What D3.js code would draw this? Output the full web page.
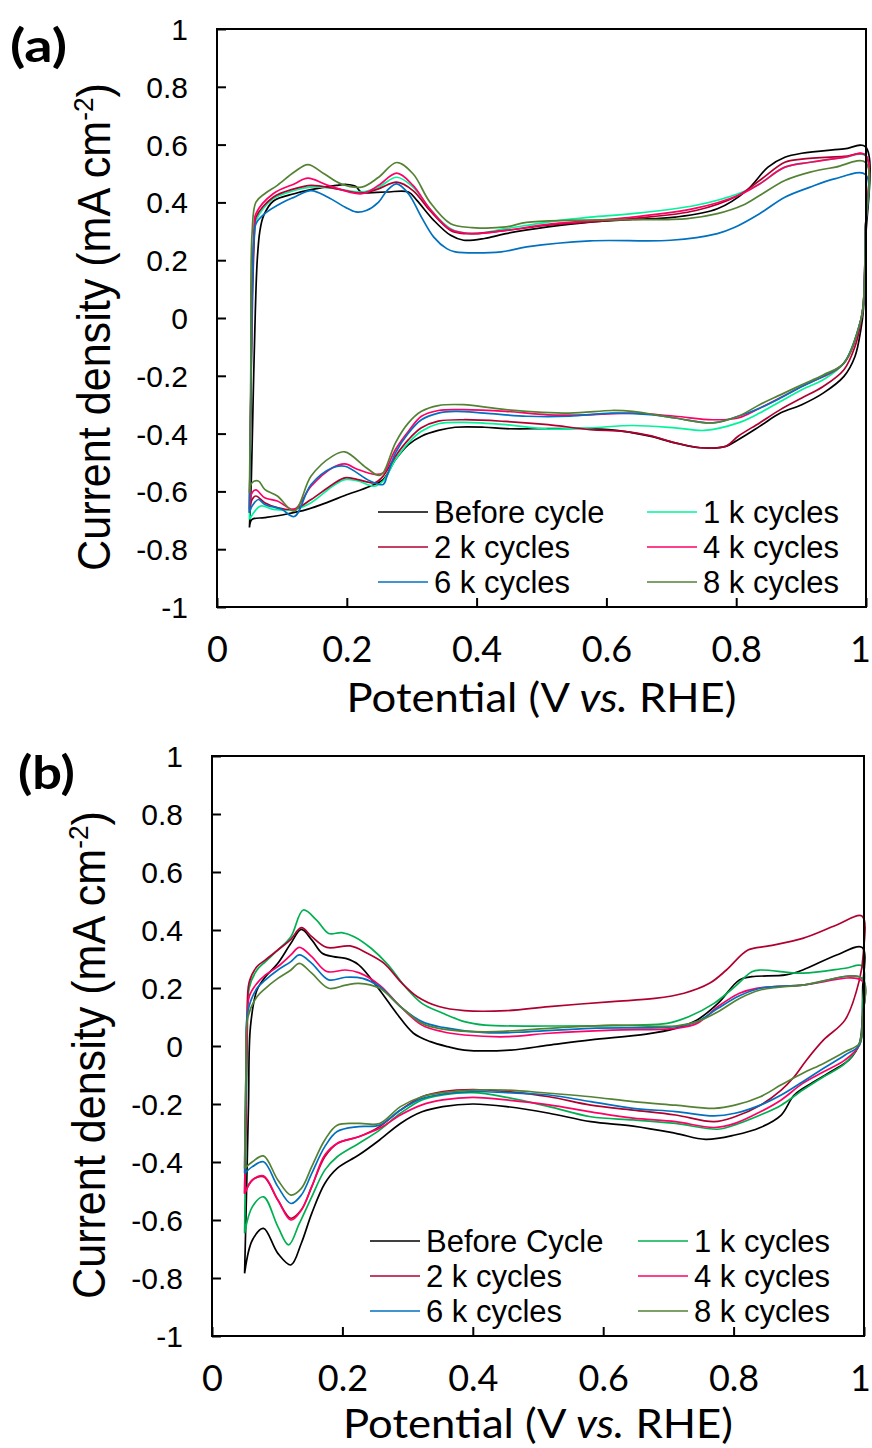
<!doctype html>
<html>
<head>
<meta charset="utf-8">
<script src="https://d3js.org/d3.v7.min.js"></script>
<style>
    body { margin: 0; background: #fff; }
    svg { display: block; }
</style>
</head>
<body>
<svg id="mainsvg" width="872" height="1448"></svg>
<script>
// ---- axis ticks ----
const potentialTicks = [0, 0.2, 0.4, 0.6, 0.8, 1];
const currentTicks = [1, 0.8, 0.6, 0.4, 0.2, 0, -0.2, -0.4, -0.6, -0.8, -1];

// ---- series names / colours ----
const namesA = ["Before cycle", "1 k cycles", "2 k cycles", "4 k cycles", "6 k cycles", "8 k cycles"];
const namesB = ["Before Cycle", "1 k cycles", "2 k cycles", "4 k cycles", "6 k cycles", "8 k cycles"];
const colorsA = ["#000000", "#00f59b", "#b00030", "#ff0066", "#0070c0", "#548235"];
const colorsB = ["#000000", "#00b050", "#b00030", "#ff0066", "#0070c0", "#548235"];

// ---- panel (a): [potential V, current mA cm-2], anodic then cathodic sweep ----
const a_before_up = [[0.05,-0.725],[0.053,-0.55],[0.056,-0.25],[0.059,0.02],[0.062,0.2],[0.066,0.30],[0.072,0.355],[0.087,0.405],[0.119,0.43],[0.145,0.444],[0.184,0.459],[0.200,0.462],[0.214,0.455],[0.222,0.436],[0.260,0.436],[0.295,0.436],[0.308,0.407],[0.334,0.338],[0.360,0.286],[0.380,0.269],[0.412,0.275],[0.445,0.292],[0.510,0.315],[0.575,0.332],[0.640,0.341],[0.706,0.349],[0.771,0.378],[0.816,0.441],[0.849,0.522],[0.875,0.556],[0.901,0.570],[0.966,0.585],[0.999,0.593]];
const a_before_down = [[0.999,0.25],[0.996,0.03],[0.992,-0.041],[0.983,-0.133],[0.966,-0.202],[0.934,-0.260],[0.901,-0.300],[0.868,-0.329],[0.836,-0.375],[0.803,-0.421],[0.784,-0.444],[0.745,-0.449],[0.706,-0.432],[0.667,-0.409],[0.627,-0.392],[0.575,-0.383],[0.510,-0.383],[0.445,-0.383],[0.412,-0.378],[0.367,-0.378],[0.341,-0.389],[0.315,-0.409],[0.295,-0.438],[0.275,-0.490],[0.256,-0.559],[0.236,-0.582],[0.197,-0.614],[0.171,-0.637],[0.139,-0.662],[0.106,-0.679],[0.0735,-0.691],[0.054,-0.697],[0.05,-0.725]];

const a_1k_up = [[0.05,-0.697],[0.052,-0.3],[0.054,0.05],[0.057,0.28],[0.060,0.338],[0.0865,0.413],[0.119,0.441],[0.145,0.453],[0.184,0.447],[0.223,0.436],[0.249,0.453],[0.277,0.487],[0.302,0.453],[0.328,0.378],[0.360,0.309],[0.393,0.292],[0.445,0.309],[0.510,0.332],[0.575,0.349],[0.640,0.361],[0.738,0.390],[0.803,0.430],[0.836,0.464],[0.875,0.522],[0.914,0.539],[0.966,0.556],[0.999,0.562]];
const a_1k_down = [[0.999,0.3],[0.996,0.05],[0.992,-0.007],[0.966,-0.156],[0.934,-0.214],[0.901,-0.248],[0.868,-0.289],[0.836,-0.329],[0.803,-0.363],[0.751,-0.389],[0.706,-0.380],[0.640,-0.372],[0.575,-0.380],[0.510,-0.384],[0.445,-0.369],[0.380,-0.361],[0.341,-0.366],[0.315,-0.392],[0.295,-0.432],[0.275,-0.490],[0.256,-0.564],[0.243,-0.582],[0.217,-0.564],[0.197,-0.559],[0.178,-0.582],[0.145,-0.639],[0.119,-0.662],[0.0865,-0.662],[0.067,-0.651],[0.05,-0.697]];

const a_2k_up = [[0.05,-0.674],[0.052,-0.3],[0.055,0.1],[0.058,0.3],[0.060,0.349],[0.0865,0.418],[0.119,0.447],[0.145,0.459],[0.184,0.447],[0.223,0.432],[0.249,0.447],[0.277,0.470],[0.302,0.441],[0.328,0.372],[0.360,0.303],[0.380,0.292],[0.445,0.303],[0.510,0.321],[0.640,0.344],[0.738,0.372],[0.803,0.424],[0.836,0.476],[0.875,0.539],[0.901,0.550],[0.966,0.559],[0.999,0.564]];
const a_2k_down = [[0.999,0.3],[0.996,0.05],[0.992,-0.018],[0.983,-0.099],[0.966,-0.179],[0.934,-0.237],[0.901,-0.277],[0.868,-0.317],[0.836,-0.363],[0.803,-0.409],[0.784,-0.444],[0.745,-0.449],[0.706,-0.432],[0.667,-0.407],[0.627,-0.392],[0.575,-0.386],[0.510,-0.369],[0.445,-0.358],[0.380,-0.352],[0.341,-0.357],[0.315,-0.380],[0.295,-0.421],[0.275,-0.478],[0.256,-0.547],[0.243,-0.570],[0.217,-0.559],[0.197,-0.553],[0.178,-0.576],[0.145,-0.628],[0.119,-0.662],[0.093,-0.656],[0.0735,-0.639],[0.060,-0.616],[0.054,-0.628],[0.05,-0.674]];

const a_4k_up = [[0.05,-0.662],[0.052,-0.3],[0.054,0.1],[0.057,0.3],[0.060,0.361],[0.0865,0.430],[0.119,0.464],[0.140,0.484],[0.171,0.459],[0.223,0.430],[0.249,0.459],[0.277,0.501],[0.302,0.459],[0.328,0.378],[0.360,0.306],[0.393,0.292],[0.445,0.303],[0.510,0.324],[0.640,0.349],[0.738,0.380],[0.803,0.424],[0.836,0.464],[0.875,0.522],[0.914,0.539],[0.966,0.556],[0.999,0.565]];
const a_4k_down = [[0.999,0.3],[0.996,0.05],[0.992,-0.007],[0.966,-0.156],[0.901,-0.237],[0.836,-0.312],[0.803,-0.346],[0.764,-0.352],[0.706,-0.340],[0.640,-0.329],[0.575,-0.335],[0.510,-0.335],[0.445,-0.323],[0.380,-0.317],[0.341,-0.320],[0.315,-0.340],[0.295,-0.392],[0.275,-0.455],[0.256,-0.536],[0.243,-0.541],[0.217,-0.524],[0.197,-0.505],[0.178,-0.518],[0.145,-0.582],[0.119,-0.662],[0.093,-0.633],[0.0735,-0.622],[0.060,-0.595],[0.054,-0.605],[0.05,-0.662]];

const a_6k_up = [[0.05,-0.674],[0.052,-0.3],[0.054,0.05],[0.057,0.27],[0.060,0.326],[0.0735,0.361],[0.0995,0.398],[0.119,0.418],[0.145,0.441],[0.171,0.418],[0.197,0.384],[0.214,0.367],[0.230,0.372],[0.249,0.401],[0.262,0.441],[0.277,0.464],[0.295,0.430],[0.315,0.349],[0.334,0.280],[0.354,0.240],[0.367,0.229],[0.438,0.229],[0.477,0.246],[0.575,0.267],[0.699,0.269],[0.771,0.292],[0.797,0.313],[0.836,0.361],[0.875,0.418],[0.914,0.453],[0.953,0.482],[0.999,0.497]];
const a_6k_down = [[0.999,0.3],[0.996,0.05],[0.992,-0.007],[0.966,-0.156],[0.934,-0.202],[0.901,-0.237],[0.868,-0.277],[0.836,-0.312],[0.803,-0.340],[0.764,-0.363],[0.706,-0.346],[0.673,-0.335],[0.608,-0.329],[0.543,-0.340],[0.477,-0.340],[0.412,-0.329],[0.367,-0.323],[0.341,-0.329],[0.315,-0.352],[0.295,-0.398],[0.275,-0.467],[0.262,-0.547],[0.256,-0.576],[0.236,-0.564],[0.197,-0.513],[0.178,-0.518],[0.145,-0.576],[0.119,-0.687],[0.0995,-0.662],[0.0735,-0.645],[0.0637,-0.628],[0.054,-0.651],[0.05,-0.674]];

const a_8k_up = [[0.05,-0.605],[0.052,-0.2],[0.054,0.292],[0.060,0.401],[0.0735,0.430],[0.093,0.459],[0.119,0.505],[0.140,0.531],[0.165,0.499],[0.191,0.464],[0.223,0.453],[0.249,0.487],[0.277,0.538],[0.302,0.499],[0.328,0.401],[0.360,0.326],[0.393,0.313],[0.445,0.315],[0.477,0.331],[0.543,0.338],[0.640,0.340],[0.725,0.344],[0.771,0.361],[0.810,0.390],[0.836,0.424],[0.875,0.476],[0.914,0.505],[0.953,0.522],[0.999,0.539]];
const a_8k_down = [[0.999,0.3],[0.996,0.05],[0.992,-0.007],[0.966,-0.156],[0.934,-0.197],[0.901,-0.231],[0.868,-0.266],[0.836,-0.300],[0.803,-0.340],[0.764,-0.363],[0.706,-0.346],[0.640,-0.323],[0.608,-0.320],[0.543,-0.329],[0.445,-0.317],[0.380,-0.300],[0.341,-0.303],[0.315,-0.323],[0.295,-0.363],[0.275,-0.432],[0.256,-0.536],[0.249,-0.545],[0.230,-0.518],[0.197,-0.463],[0.178,-0.478],[0.145,-0.547],[0.119,-0.668],[0.093,-0.616],[0.0735,-0.593],[0.0637,-0.564],[0.054,-0.570],[0.05,-0.605]];

// ---- panel (b) ----
const b_before_up = [[0.05,-0.784],[0.053,-0.5],[0.056,-0.2],[0.059,0.067],[0.069,0.193],[0.082,0.239],[0.101,0.285],[0.121,0.354],[0.137,0.402],[0.153,0.366],[0.169,0.320],[0.186,0.308],[0.205,0.302],[0.225,0.280],[0.257,0.193],[0.283,0.113],[0.309,0.044],[0.335,0.015],[0.361,-0.002],[0.387,-0.014],[0.458,-0.014],[0.517,0.003],[0.581,0.021],[0.666,0.041],[0.711,0.061],[0.744,0.090],[0.776,0.147],[0.809,0.228],[0.828,0.239],[0.880,0.245],[0.906,0.262],[0.958,0.314],[0.997,0.340]];
const b_before_down = [[0.998,0.2],[0.993,0.009],[0.977,-0.048],[0.958,-0.077],[0.919,-0.129],[0.893,-0.169],[0.873,-0.238],[0.841,-0.281],[0.802,-0.307],[0.757,-0.322],[0.711,-0.301],[0.646,-0.276],[0.581,-0.261],[0.517,-0.232],[0.452,-0.209],[0.400,-0.200],[0.354,-0.209],[0.322,-0.227],[0.289,-0.267],[0.257,-0.324],[0.225,-0.376],[0.192,-0.422],[0.173,-0.474],[0.153,-0.577],[0.137,-0.680],[0.121,-0.755],[0.101,-0.715],[0.079,-0.629],[0.062,-0.669],[0.05,-0.784]];

const b_1k_up = [[0.05,-0.646],[0.052,-0.3],[0.054,0.0],[0.057,0.2],[0.069,0.262],[0.082,0.291],[0.101,0.331],[0.121,0.377],[0.140,0.469],[0.160,0.435],[0.179,0.388],[0.199,0.391],[0.218,0.377],[0.244,0.337],[0.270,0.280],[0.296,0.205],[0.322,0.147],[0.354,0.113],[0.387,0.084],[0.419,0.072],[0.517,0.069],[0.646,0.072],[0.698,0.078],[0.731,0.101],[0.770,0.147],[0.802,0.205],[0.828,0.256],[0.841,0.262],[0.906,0.251],[0.971,0.268],[0.997,0.276]];
const b_1k_down = [[0.998,0.15],[0.993,0.009],[0.971,-0.060],[0.938,-0.106],[0.906,-0.152],[0.873,-0.204],[0.841,-0.238],[0.802,-0.272],[0.776,-0.287],[0.711,-0.267],[0.646,-0.255],[0.581,-0.244],[0.517,-0.209],[0.452,-0.177],[0.400,-0.161],[0.354,-0.169],[0.322,-0.186],[0.289,-0.232],[0.257,-0.290],[0.225,-0.336],[0.192,-0.382],[0.173,-0.428],[0.153,-0.520],[0.134,-0.612],[0.1175,-0.686],[0.101,-0.623],[0.079,-0.520],[0.062,-0.554],[0.05,-0.646]];

const b_2k_up = [[0.05,-0.508],[0.052,-0.2],[0.054,0.1],[0.057,0.22],[0.069,0.274],[0.082,0.297],[0.101,0.331],[0.121,0.368],[0.137,0.408],[0.153,0.377],[0.176,0.340],[0.212,0.345],[0.238,0.320],[0.264,0.285],[0.289,0.222],[0.315,0.170],[0.348,0.136],[0.387,0.122],[0.452,0.122],[0.517,0.136],[0.614,0.153],[0.679,0.164],[0.724,0.182],[0.763,0.216],[0.789,0.262],[0.822,0.331],[0.854,0.345],[0.906,0.371],[0.958,0.417],[0.997,0.448]];
const b_2k_down = [[0.999,0.32],[0.993,0.228],[0.971,0.090],[0.938,0.021],[0.912,-0.048],[0.893,-0.106],[0.873,-0.152],[0.841,-0.204],[0.802,-0.244],[0.770,-0.261],[0.711,-0.238],[0.646,-0.221],[0.581,-0.204],[0.517,-0.175],[0.452,-0.157],[0.400,-0.150],[0.354,-0.157],[0.322,-0.175],[0.289,-0.221],[0.257,-0.278],[0.225,-0.313],[0.192,-0.336],[0.173,-0.382],[0.153,-0.485],[0.137,-0.565],[0.121,-0.594],[0.101,-0.531],[0.079,-0.451],[0.062,-0.462],[0.05,-0.508]];

const b_4k_up = [[0.05,-0.510],[0.052,-0.2],[0.054,0.05],[0.057,0.17],[0.069,0.216],[0.082,0.245],[0.101,0.274],[0.121,0.314],[0.134,0.340],[0.153,0.308],[0.176,0.257],[0.205,0.262],[0.225,0.253],[0.257,0.210],[0.289,0.136],[0.322,0.072],[0.354,0.049],[0.387,0.038],[0.452,0.032],[0.517,0.044],[0.614,0.055],[0.711,0.061],[0.744,0.078],[0.776,0.136],[0.809,0.182],[0.835,0.199],[0.906,0.210],[0.997,0.225]];
const b_4k_down = [[0.998,0.1],[0.993,0.003],[0.971,-0.048],[0.938,-0.089],[0.906,-0.129],[0.873,-0.186],[0.841,-0.227],[0.802,-0.267],[0.770,-0.281],[0.711,-0.261],[0.646,-0.249],[0.581,-0.227],[0.517,-0.203],[0.452,-0.186],[0.400,-0.177],[0.354,-0.186],[0.322,-0.203],[0.289,-0.238],[0.257,-0.284],[0.225,-0.313],[0.192,-0.336],[0.173,-0.376],[0.153,-0.485],[0.137,-0.566],[0.121,-0.600],[0.101,-0.531],[0.079,-0.448],[0.062,-0.462],[0.05,-0.510]];

const b_6k_up = [[0.05,-0.439],[0.052,-0.1],[0.055,0.12],[0.069,0.199],[0.082,0.228],[0.101,0.262],[0.121,0.291],[0.134,0.314],[0.153,0.285],[0.179,0.228],[0.205,0.237],[0.231,0.233],[0.257,0.205],[0.289,0.136],[0.322,0.084],[0.354,0.064],[0.419,0.046],[0.484,0.049],[0.581,0.061],[0.711,0.067],[0.744,0.084],[0.776,0.130],[0.809,0.173],[0.841,0.199],[0.906,0.210],[0.997,0.233]];
const b_6k_down = [[0.998,0.1],[0.993,0.003],[0.971,-0.031],[0.938,-0.077],[0.906,-0.123],[0.873,-0.169],[0.841,-0.204],[0.802,-0.232],[0.770,-0.241],[0.711,-0.226],[0.646,-0.215],[0.581,-0.192],[0.517,-0.169],[0.452,-0.161],[0.400,-0.157],[0.354,-0.166],[0.322,-0.181],[0.289,-0.221],[0.257,-0.273],[0.225,-0.278],[0.192,-0.295],[0.173,-0.347],[0.153,-0.439],[0.137,-0.514],[0.121,-0.543],[0.101,-0.485],[0.079,-0.399],[0.062,-0.416],[0.05,-0.439]];

const b_8k_up = [[0.05,-0.422],[0.052,-0.1],[0.055,0.1],[0.069,0.170],[0.082,0.199],[0.101,0.233],[0.121,0.262],[0.134,0.285],[0.153,0.251],[0.179,0.199],[0.205,0.210],[0.225,0.216],[0.257,0.199],[0.289,0.136],[0.322,0.078],[0.354,0.058],[0.419,0.049],[0.517,0.061],[0.614,0.072],[0.711,0.069],[0.744,0.084],[0.776,0.118],[0.809,0.164],[0.841,0.193],[0.906,0.210],[0.997,0.233]];
const b_8k_down = [[0.998,0.1],[0.993,0.009],[0.971,-0.020],[0.938,-0.060],[0.906,-0.094],[0.873,-0.134],[0.841,-0.175],[0.802,-0.204],[0.770,-0.215],[0.711,-0.204],[0.646,-0.192],[0.581,-0.175],[0.517,-0.163],[0.452,-0.152],[0.400,-0.152],[0.354,-0.161],[0.322,-0.175],[0.289,-0.209],[0.257,-0.267],[0.225,-0.267],[0.192,-0.273],[0.173,-0.324],[0.153,-0.416],[0.137,-0.491],[0.121,-0.514],[0.101,-0.462],[0.079,-0.379],[0.062,-0.399],[0.05,-0.422]];

const panels = [
    { label: "(a)", labelX: 10, names: namesA, colors: colorsA, titleGap: 105,
      left: 217, right: 866, top: 29, bottom: 607, legendX1: 161, legendX2: 430,
      sweeps: [[a_before_up, a_before_down], [a_1k_up, a_1k_down], [a_2k_up, a_2k_down],
               [a_4k_up, a_4k_down], [a_6k_up, a_6k_down], [a_8k_up, a_8k_down]] },
    { label: "(b)", labelX: 18, names: namesB, colors: colorsB, titleGap: 102,
      left: 212, right: 864, top: 756, bottom: 1336, legendX1: 158, legendX2: 426,
      sweeps: [[b_before_up, b_before_down], [b_1k_up, b_1k_down], [b_2k_up, b_2k_down],
               [b_4k_up, b_4k_down], [b_6k_up, b_6k_down], [b_8k_up, b_8k_down]] }
];

const SANS = '"Liberation Sans", Arial, sans-serif';
const HUMAN = 'Lato, "Open Sans", sans-serif';
const PAGE_W = 872;

// squeeze a text element horizontally so it is w pixels long
function fitWidth(sel, w, base)
{
    const len = sel.node().getComputedTextLength();
    sel.attr('transform', base + ` scale(${w / len},1)`);
}

function drawPanel(svg, p)
{
    const x = d3.scaleLinear().domain([0, 1]).range([p.left, p.right]);
    const y = d3.scaleLinear().domain([-1, 1]).range([p.bottom, p.top]);
    const g = svg.append('g');

    const line = d3.line()
        .x(d => x(d[0]))
        .y(d => y(d[1]))
        .curve(d3.curveCatmullRom.alpha(0.5));

    p.sweeps.forEach((s, i) => {
        g.append('path')
            .attr('d', line(s[0].concat(s[1])))
            .attr('fill', 'none')
            .attr('stroke', p.colors[i])
            .attr('stroke-width', 1.7)
            .attr('stroke-linejoin', 'round');
    });

    // frame
    g.append('rect')
        .attr('x', p.left).attr('y', p.top)
        .attr('width', p.right - p.left).attr('height', p.bottom - p.top)
        .attr('fill', 'none').attr('stroke', '#000').attr('stroke-width', 2);

    // axes, ticks point inward
    const xAxis = g.append('g')
        .attr('transform', `translate(0,${p.bottom})`)
        .call(d3.axisBottom(x).tickValues(potentialTicks).tickSizeInner(-9).tickSizeOuter(0)
            .tickFormat(d => String(d)));
    xAxis.select('.domain').remove();
    xAxis.selectAll('line').attr('stroke', '#000').attr('stroke-width', 2);
    xAxis.selectAll('text')
        .attr('y', 55).attr('dy', null)
        .style('font-family', HUMAN).style('font-size', '36px').attr('fill', '#000');
    // keep the last label inside the page
    xAxis.selectAll('text').each(function() {
        const b = this.getBBox();
        const ctm = this.getCTM();
        const right = ctm.e + b.x + b.width;
        if (right > PAGE_W - 1) d3.select(this).attr('x', -(right - PAGE_W + 1));
    });

    const yAxis = g.append('g')
        .attr('transform', `translate(${p.left},0)`)
        .call(d3.axisLeft(y).tickValues(currentTicks).tickSizeInner(-9).tickSizeOuter(0)
            .tickPadding(29).tickFormat(d => String(d)));
    yAxis.select('.domain').remove();
    yAxis.selectAll('line').attr('stroke', '#000').attr('stroke-width', 2);
    yAxis.selectAll('text')
        .attr('dy', '0.35em')
        .style('font-family', SANS).style('font-size', '30px').attr('fill', '#000');

    // x title
    const xt = svg.append('text')
        .attr('text-anchor', 'middle')
        .style('font-family', HUMAN).style('font-size', '41px');
    xt.append('tspan').text('Potential (V ');
    xt.append('tspan').style('font-style', 'italic').text('vs.');
    xt.append('tspan').text(' RHE)');
    fitWidth(xt, 390, `translate(${(p.left + p.right) / 2},${p.bottom + p.titleGap})`);

    // y title
    const yt = svg.append('text')
        .attr('text-anchor', 'middle')
        .style('font-family', SANS).style('font-size', '46px');
    yt.append('tspan').text('Current density (mA cm');
    yt.append('tspan').attr('dy', -17).style('font-size', '28px').text('-2');
    yt.append('tspan').attr('dy', 17).text(')');
    fitWidth(yt, 488, `translate(${p.left - 107},${(p.top + p.bottom) / 2 + 9}) rotate(-90)`);

    // panel label
    const pl = svg.append('text')
        .style('font-family', HUMAN).style('font-size', '46px').style('font-weight', 'bold')
        .text(p.label);
    fitWidth(pl, 57, `translate(${p.labelX},${p.top + 33})`);

    // legend, two columns
    p.names.forEach((name, i) => {
        const col = i % 2, row = Math.floor(i / 2);
        const lx = p.left + (col === 0 ? p.legendX1 : p.legendX2);
        const ly = p.bottom - 95 + row * 35;
        g.append('line')
            .attr('x1', lx).attr('x2', lx + 50)
            .attr('y1', ly).attr('y2', ly)
            .attr('stroke', p.colors[i]).attr('stroke-width', 1.7);
        g.append('text')
            .attr('x', lx + 56).attr('y', ly + 10.5)
            .style('font-family', SANS).style('font-size', '31px')
            .text(name);
    });
}

const svg = d3.select('#mainsvg');
panels.forEach(p => drawPanel(svg, p));
</script>
</body>
</html>
